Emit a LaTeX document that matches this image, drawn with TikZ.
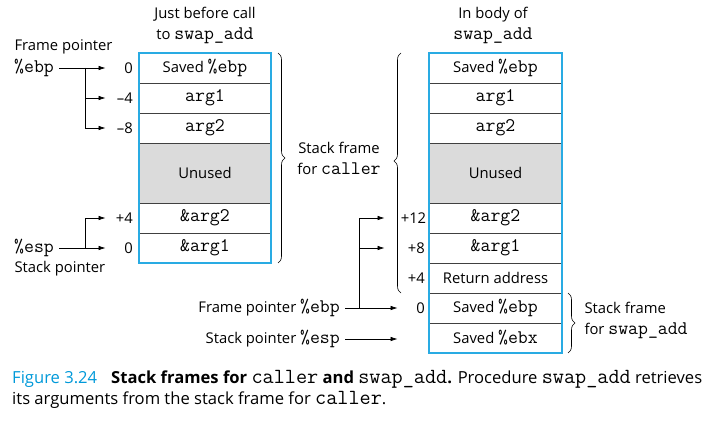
\documentclass[tikz,border=0pt]{standalone}
\usepackage{fontspec}
\setmainfont{Open Sans}
\setmonofont{Latin Modern Mono}[Scale=1.3]
\usetikzlibrary{arrows.meta, positioning, decorations.pathreplacing}
\definecolor{figblue}{rgb}{0.16, 0.67, 0.89}
\definecolor{captionblue}{rgb}{0.0, 0.6, 0.85}
\definecolor{unusedgray}{rgb}{0.86, 0.86, 0.86}
\newcommand{\regname}[1]{\texttt{\%#1}}

\begin{document}
\begin{tikzpicture}[x=1pt, y=-1pt,
	texts/.style = {text=black, font=\fontsize{14.8}{21}\selectfont},
	cell/.style = {texts, draw=black!75, line width=0.6pt, minimum width=132pt, minimum height=30pt, inner sep=0pt, outer sep=0pt},
	unused/.style = {cell, minimum height=60pt, fill=unusedgray},
	frame/.style = {draw=figblue, line width=1.8pt},
	offset/.style = {texts, text width=24pt, align=right, inner sep=1pt, anchor=east},
	ptr/.style = {-{Latex[length=7pt, width=4.5pt]}, line width=0.7pt},
	brace/.style = {decorate, decoration={brace, amplitude=7pt}, line width=0.6pt}
]
	\useasboundingbox (0,0) rectangle (728,428);

	% stack just before the call
	\node[cell] (lsaved) at (205,68) {Saved \regname{ebp}};
	\node[cell, below=0pt of lsaved] (larga) {\texttt{arg1}};
	\node[cell, below=0pt of larga] (largb) {\texttt{arg2}};
	\node[unused, below=0pt of largb] (lunused) {Unused};
	\node[cell, below=0pt of lunused] (laddrb) {\texttt{\&arg2}};
	\node[cell, below=0pt of laddrb] (laddra) {\texttt{\&arg1}};
	\draw[frame] (lsaved.north west) rectangle (laddra.south east);
	\node[texts, align=center] (ltitle) at (205,25) {Just before call\\to \texttt{swap\_add}};

	% stack in the body of swap_add
	\node[cell, minimum width=133pt] (rsaved) at (495.5,68) {Saved \regname{ebp}};
	\node[cell, minimum width=133pt, below=0pt of rsaved] (rarga) {\texttt{arg1}};
	\node[cell, minimum width=133pt, below=0pt of rarga] (rargb) {\texttt{arg2}};
	\node[unused, minimum width=133pt, below=0pt of rargb] (runused) {Unused};
	\node[cell, minimum width=133pt, below=0pt of runused] (raddrb) {\texttt{\&arg2}};
	\node[cell, minimum width=133pt, below=0pt of raddrb] (raddra) {\texttt{\&arg1}};
	\node[cell, minimum width=133pt, below=0pt of raddra] (rret) {Return address};
	\node[cell, minimum width=133pt, below=0pt of rret] (rebp) {Saved \regname{ebp}};
	\node[cell, minimum width=133pt, below=0pt of rebp] (rebx) {Saved \regname{ebx}};
	\draw[frame] (rsaved.north west) rectangle (rebx.south east);
	\node[texts, align=center] (rtitle) at (493,25) {In body of\\\texttt{swap\_add}};

	% offsets, left
	\node[offset] (lozero) at (134,68) {0};
	\node[offset] (lomfour) at (134,98) {--4};
	\node[offset] (lomeight) at (134,128) {--8};
	\node[offset] (lopfour) at (134,218) {+4};
	\node[offset] (lozerob) at (134,248) {0};

	% pointers, left
	\node[texts, anchor=west] (lfplabel) at (11,47) {Frame pointer};
	\node[texts, anchor=west, inner sep=1pt] (lebp) at (13,68) {\regname{ebp}};
	\node[texts, anchor=west, inner sep=1pt] (lesp) at (13,248) {\regname{esp}};
	\node[texts, anchor=west] (lsplabel) at (11,269) {Stack pointer};
	\coordinate (lforka) at (85,68);
	\coordinate (lforkb) at (85,248);
	\draw[ptr, shorten <=4pt, shorten >=2pt] (lebp.east) -- (lozero.west);
	\draw[ptr, shorten >=2pt] (lforka) |- (lomfour);
	\draw[ptr, shorten >=2pt] (lforka) |- (lomeight);
	\draw[ptr, shorten <=4pt, shorten >=2pt] (lesp.east) -- (lozerob.west);
	\draw[ptr, shorten >=2pt] (lforkb) |- (lopfour);

	% offsets, right
	\node[offset] (rotwelve) at (426,218) {+12};
	\node[offset] (roeight) at (426,248) {+8};
	\node[offset] (rofour) at (426,278) {+4};
	\node[offset] (rozero) at (426,308) {0};

	% pointers, right
	\node[texts, anchor=east, inner sep=1pt] (rfplabel) at (341,308) {Frame pointer \regname{ebp}};
	\node[texts, anchor=east, inner sep=1pt] (rsplabel) at (341,339) {Stack pointer \regname{esp}};
	\coordinate (rfork) at (359,308);
	\coordinate (rspend) at (rozero.west |- rsplabel.east);
	\draw[ptr, shorten <=4pt, shorten >=2pt] (rfplabel.east) -- (rozero.west);
	\draw[ptr, shorten <=4pt, shorten >=2pt] (rsplabel.east) -- (rspend);
	\draw[ptr, shorten >=15pt] (rfork) |- (rotwelve);
	\draw[ptr, shorten >=15pt] (rfork) |- (roeight);

	% braces
	\draw[brace] ([xshift=7pt]lsaved.north east) -- ([xshift=7pt]laddra.south east);
	\draw[brace, decoration={aspect=0.55}] (401,293) -- (401,53);
	\draw[brace] ([xshift=6pt]rebp.north east) -- ([xshift=6pt]rebx.south east);
	\node[texts, align=center] (callerlabel) at (339,158) {Stack frame\\for \texttt{caller}};
	\node[texts, align=left, anchor=west] (swaplabel) at (581,320) {Stack frame\\for \texttt{swap\_add}};

	% caption
	\node[texts, anchor=north west, align=left, inner sep=0pt, font=\fontsize{16.6}{21}\selectfont] (caption) at (12,370)
		{{\color{captionblue}Figure 3.24}\hspace{14pt}\textbf{Stack frames for {\mdseries\texttt{caller}} and {\mdseries\texttt{swap\_add}}.} Procedure \texttt{swap\_add} retrieves\\its arguments from the stack frame for \texttt{caller}.};
\end{tikzpicture}
\end{document}
